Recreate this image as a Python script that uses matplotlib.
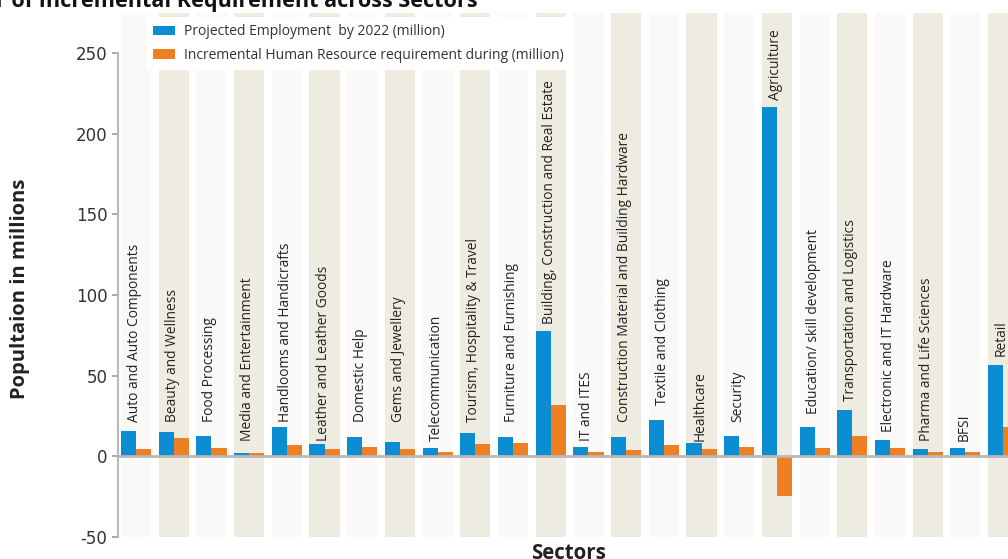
import numpy as np
import matplotlib.pyplot as plt

plt.rcParams['axes.unicode_minus'] = False

sectors = ['Auto and Auto Components', 'Beauty and Wellness', 'Food Processing',
           'Media and Entertainment', 'Handlooms and Handicrafts', 'Leather and Leather Goods',
           'Domestic Help', 'Gems and Jewellery', 'Telecommunication',
           'Tourism, Hospitality & Travel', 'Furniture and Furnishing',
           'Building, Construction and Real Estate', 'IT and ITES',
           'Construction Material and Building Hardware', 'Textile and Clothing',
           'Healthcare', 'Security', 'Agriculture', 'Education/ skill development',
           'Transportation and Logistics', 'Electronic and IT Hardware',
           'Pharma and Life Sciences', 'BFSI', 'Retail']
projected = [15.5, 14.8, 12.4, 1.9, 18.4, 7.4, 11.8, 8.7, 5.0, 14.2, 11.8, 77.4,
             5.6, 11.8, 22.3, 8.0, 12.4, 216.6, 17.9, 29.0, 9.9, 4.3, 5.0, 56.7]
incremental = [4.3, 11.1, 5.0, 1.9, 6.8, 4.3, 5.6, 4.3, 2.5, 7.4, 8.0, 32.0,
               2.5, 3.7, 6.8, 4.3, 5.6, -24.8, 5.0, 12.4, 5.0, 2.5, 2.5, 17.9]

# where each rotated sector label starts (data units)
label_base = [21, 21, 21, 9.3, 21, 9.3, 21, 21, 9.3, 21, 21, 82, 9.3, 21, 31.6,
              9.3, 21, 221, 26, 34, 15, 9.3, 9.3, 62]

blue = '#0a8dd3'
orange = '#ee7f22'
band_colors = ['#faf9f7', '#eeece1']

fig = plt.figure(figsize=(10.08, 5.59), dpi=100)
ax = fig.add_axes([118 / 1008, 1 - 537 / 559, 1 - 118 / 1008, (537 - 12.6) / 559])

x = np.arange(len(sectors))
ax.bar(x, [325] * len(x), bottom=-50, width=0.8,
       color=[band_colors[i % 2] for i in x], zorder=0)
ax.bar(x - 0.2, projected, width=0.4, color=blue, zorder=2,
       label='Projected Employment  by 2022 (million)')
ax.bar(x + 0.2, incremental, width=0.4, color=orange, zorder=2,
       label='Incremental Human Resource requirement during (million)')
ax.axhline(0, color='#b8b8b8', lw=2, zorder=3)

for i, name in enumerate(sectors):
    ax.text(i - 0.04, label_base[i], name, rotation=90, ha='center', va='bottom',
            fontsize=9.9, family='Open Sans', color='#222222', zorder=4)

ax.set_xlim(-0.48, 23.13)
ax.set_ylim(-50, 275)
ax.set_yticks(range(-50, 251, 50))
ax.tick_params(axis='y', labelsize=12, colors='#9a9a9a', labelcolor='#333333',
               length=4, width=1.2)
for lbl in ax.get_yticklabels():
    lbl.set_family('Liberation Sans Narrow')
ax.set_xticks([])
for s in ['top', 'right', 'bottom']:
    ax.spines[s].set_visible(False)
ax.spines['left'].set_bounds(-50, 250)
ax.spines['left'].set_color('#b8b8b8')
ax.spines['left'].set_linewidth(1.5)
ax.set_facecolor('none')

fig.text(20 / 1008, 1 - 289 / 559, 'Popultaion in millions', rotation=90,
         ha='center', va='center', fontsize=14.5, fontweight='bold',
         family='Open Sans', color='#222222')
fig.text(568 / 1008, 1 - 543 / 559, 'Sectors', ha='center', va='top',
         fontsize=14.8, fontweight='bold', family='Open Sans', color='#222222')
fig.text(478 / 1008, 1 - 7 / 559,
         'Projected Employment and Number of Incremental Requirement across Sectors',
         ha='right', va='baseline', fontsize=15.6, fontweight='bold',
         family='Open Sans', color='#111111')

leg = ax.legend(loc='upper left', bbox_to_anchor=(0.024, 1.004), frameon=True,
                prop={'family': 'Open Sans', 'size': 10}, handlelength=1.6,
                handleheight=0.7, handletextpad=0.6, borderpad=0.5,
                labelspacing=0.6, fancybox=False, labelcolor='#333333')
leg.get_frame().set_facecolor('white')
leg.get_frame().set_edgecolor('none')
leg.get_frame().set_alpha(1)

fig.savefig('out.png', dpi=100)
